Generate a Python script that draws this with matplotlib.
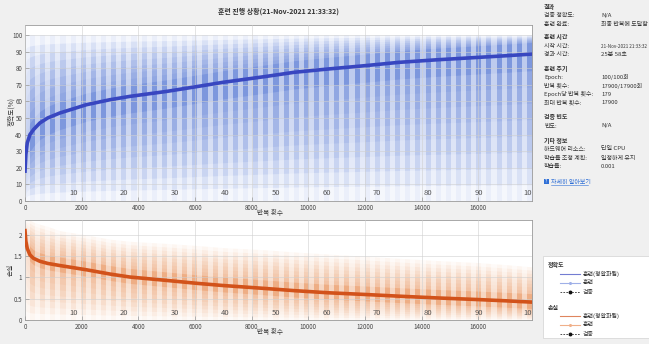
import numpy as np
import matplotlib
matplotlib.use('Agg')
import matplotlib.pyplot as plt
from matplotlib.patches import Rectangle
import matplotlib.transforms as mtransforms

plt.rcParams['font.family'] = ['Noto Sans CJK KR', 'DejaVu Sans']

# ---------------- data ----------------
n_epochs = 100
iters_per_epoch = 179
max_iter = 17900

iters = [0, 30, 80, 175, 300, 525, 800, 1230, 2170, 3000, 3700, 5000, 6100,
         7000, 8500, 9500, 10700, 12000, 13200, 14500, 16000, 17000, 17900]

acc_smooth = [18, 28, 35, 40, 43, 47, 50, 53, 58, 61, 63, 66, 69,
              71.5, 75, 77.5, 79.5, 81.5, 83.5, 85, 86.5, 87.5, 88.5]
acc_dense_hi = [25, 35, 42, 47, 50, 54, 57, 60, 65, 68, 70, 73, 76,
                78.5, 82, 84.5, 86.5, 88.5, 90.5, 92, 93.5, 94.5, 95.5]
acc_dense_lo = [8, 18, 25, 30, 33, 37, 40, 43, 48, 51, 53, 56, 59,
                61.5, 65, 67.5, 69.5, 71.5, 73.5, 75, 76.5, 77.5, 78.5]
acc_raw_hi = [100] * 23
acc_raw_lo = [0] * 23

loss_smooth = [2.1, 1.85, 1.68, 1.53, 1.45, 1.38, 1.33, 1.28, 1.18, 1.08, 1.01, 0.93, 0.86,
               0.81, 0.74, 0.69, 0.64, 0.60, 0.56, 0.52, 0.48, 0.45, 0.42]
loss_dense_hi = [2.3, 2.05, 1.88, 1.73, 1.65, 1.58, 1.53, 1.48, 1.38, 1.28, 1.21, 1.13, 1.06,
                 1.01, 0.94, 0.89, 0.84, 0.80, 0.76, 0.72, 0.68, 0.65, 0.62]
loss_dense_lo = [1.95, 1.7, 1.53, 1.38, 1.3, 1.23, 1.18, 1.13, 1.03, 0.93, 0.86, 0.78, 0.71,
                 0.66, 0.59, 0.54, 0.49, 0.45, 0.41, 0.37, 0.33, 0.30, 0.27]
loss_raw_hi = [2.35, 2.35, 2.35, 2.35, 2.3, 2.25, 2.2, 2.1, 2.0, 1.9, 1.85, 1.8, 1.75,
               1.7, 1.65, 1.6, 1.55, 1.5, 1.45, 1.4, 1.35, 1.3, 1.25]
loss_raw_lo = [0] * 23

x_ticks = [0, 2000, 4000, 6000, 8000, 10000, 12000, 14000, 16000]
acc_ticks = [0, 10, 20, 30, 40, 50, 60, 70, 80, 90, 100]
loss_ticks = [0, 0.5, 1, 1.5, 2]
loss_tick_labels = ['0', '0.5', '1', '1.5', '2']
epoch_labels = [10, 20, 30, 40, 50, 60, 70, 80, 90, 100]

title = '훈련 진행 상황(21-Nov-2021 21:33:32)'

info_rows = [
    ('결과', None, True),
    ('검증 정확도:', 'N/A', False),
    ('훈련 완료:', '최종 반복에 도달함', False),
    ('훈련 시간', None, True),
    ('시작 시간:', '21-Nov-2021 21:33:32', False),
    ('경과 시간:', '25분 58초', False),
    ('훈련 주기', None, True),
    ('Epoch:', '100/100회', False),
    ('반복 횟수:', '17900/17900회', False),
    ('Epoch당 반복 횟수:', '179', False),
    ('최대 반복 횟수:', '17900', False),
    ('검증 빈도', None, True),
    ('빈도:', 'N/A', False),
    ('기타 정보', None, True),
    ('하드웨어 리소스:', '단일 CPU', False),
    ('학습률 조정 계획:', '일정하게 유지', False),
    ('학습률:', '0.001', False),
]
info_y = [7, 15, 24, 37, 46, 55, 68, 77, 86, 94, 103, 117, 126, 140, 149, 158, 167]

# ---------------- figure ----------------
W, H = 649, 344
fig = plt.figure(figsize=(W / 100, H / 100), dpi=100)
fig.patch.set_facecolor('#f0f0f0')

acc_col = '#3846c0'
acc_raw = '#4f73d4'
loss_col = '#d2521a'
loss_raw = '#e8803c'


def style_axes(ax):
    ax.set_facecolor('white')
    for s in ax.spines.values():
        s.set_color('#9a9a9a')
        s.set_linewidth(0.6)
    ax.tick_params(direction='in', length=3, width=0.5, labelsize=4.5,
                   colors='#9a9a9a', labelcolor='#444444', pad=2)
    ax.grid(True, color='#cfcfcf', linewidth=0.4)
    ax.set_axisbelow(False)
    ax.set_xlim(0, max_iter)
    ax.set_xticks(x_ticks)
    ax.set_xticklabels([str(t) for t in x_ticks])


def soft_band(ax, lo_in, hi_in, lo_out, hi_out, color, alpha_in, alpha_step, n=8):
    """Gradient rendering of the raw-data spread: read inner band widening to outer band."""
    lo_in, hi_in = np.asarray(lo_in, float), np.asarray(hi_in, float)
    lo_out, hi_out = np.asarray(lo_out, float), np.asarray(hi_out, float)
    for k in range(n, 0, -1):
        f = k / n
        lo = lo_in + (lo_out - lo_in) * f
        hi = hi_in + (hi_out - hi_in) * f
        ax.fill_between(iters, lo, hi, color=color, alpha=alpha_step, lw=0, zorder=1)
    ax.fill_between(iters, lo_in, hi_in, color=color, alpha=alpha_in, lw=0, zorder=1)


def draw_epochs(ax, yfrac):
    for e in range(0, n_epochs, 2):
        ax.axvspan(e * iters_per_epoch, (e + 1) * iters_per_epoch,
                   color='white', alpha=0.5, lw=0, zorder=2)
    trans = mtransforms.blended_transform_factory(ax.transData, ax.transAxes)
    for e in epoch_labels:
        ax.text((e - 0.5) * iters_per_epoch, yfrac, str(e), transform=trans,
                ha='center', va='bottom', fontsize=5.5, color='#555555',
                clip_on=True, zorder=5)


# accuracy axes
ax1 = fig.add_axes([25 / W, 1 - 201 / H, 507 / W, 176 / H])
style_axes(ax1)
soft_band(ax1, acc_dense_lo, acc_dense_hi, acc_raw_lo, acc_raw_hi, acc_raw, 0.3, 0.11)
draw_epochs(ax1, 0.02)
ax1.plot(iters, acc_smooth, color=acc_col, lw=2.6, zorder=4)
ax1.set_ylim(0, 106)
ax1.set_yticks(acc_ticks)
ax1.set_yticklabels([str(t) for t in acc_ticks])

# loss axes
ax2 = fig.add_axes([25 / W, 1 - 320 / H, 507 / W, 100 / H])
style_axes(ax2)
soft_band(ax2, loss_dense_lo, loss_dense_hi, loss_raw_lo, loss_raw_hi, loss_raw, 0.3, 0.07)
draw_epochs(ax2, 0.03)
ax2.plot(iters, loss_smooth, color=loss_col, lw=2.6, zorder=4)
ax2.set_ylim(0, 2.35)
ax2.set_yticks(loss_ticks)
ax2.set_yticklabels(loss_tick_labels)

# overlay for texts in pixel coordinates
ov = fig.add_axes([0, 0, 1, 1], zorder=10)
ov.set_xlim(0, W)
ov.set_ylim(H, 0)
ov.axis('off')
ov.patch.set_alpha(0)

tc = '#333333'
ov.text(278, 11, title, ha='center', va='center', fontsize=5, color=tc, fontweight='bold')
ov.text(11, 112, '정확도(%)', ha='center', va='center', rotation=90, fontsize=4.8, color=tc)
ov.text(11, 270, '손실', ha='center', va='center', rotation=90, fontsize=4.8, color=tc)
ov.text(270, 213, '반복 횟수', ha='center', va='center', fontsize=4.8, color=tc)
ov.text(270, 332, '반복 횟수', ha='center', va='center', fontsize=4.8, color=tc)

for (lab, val, hdr), y in zip(info_rows, info_y):
    ov.text(544, y, lab, ha='left', va='center', fontsize=4.3, color=tc,
            fontweight='bold' if hdr else 'normal')
    if val is not None:
        fs = 3.3 if len(val) > 12 else 4.3
        ov.text(601, y, val, ha='left', va='center', fontsize=fs, color=tc)

ov.add_patch(Rectangle((543.5, 179), 5, 5, color='#2f6fd6', lw=0))
ov.text(546, 181.5, '?', ha='center', va='center', fontsize=3.5, color='white')
ov.text(551, 182, '자세히 알아보기', ha='left', va='center', fontsize=4.3, color='#2f6fd6')
ov.plot([551, 588], [185, 185], color='#2f6fd6', lw=0.4)

# legend box
ov.add_patch(Rectangle((543, 256), 110, 82, facecolor='white', edgecolor='#d8d8d8', lw=0.6))
leg_groups = [('정확도', 265, acc_col, '#9fb0e8'), ('손실', 307, loss_col, '#f0b08a')]
for name, y0, smooth_c, raw_c in leg_groups:
    ov.text(548, y0, name, ha='left', va='center', fontsize=4.3, color=tc, fontweight='bold')
    ys = [y0 + 9, y0 + 18, y0 + 27]
    ov.plot([560, 580], [ys[0], ys[0]], color=smooth_c, lw=0.8, alpha=0.7)
    ov.plot([560, 580], [ys[1], ys[1]], color=raw_c, lw=0.8)
    ov.plot([570], [ys[1]], marker='o', ms=1.2, color=raw_c)
    ov.plot([560, 580], [ys[2], ys[2]], color='#333333', lw=0.6, ls=(0, (2, 1.5)))
    ov.plot([570], [ys[2]], marker='o', ms=1.8, color='#111111')
    for lab, yy in zip(['훈련(평활화됨)', '훈련', '검증'], ys):
        ov.text(583, yy, lab, ha='left', va='center', fontsize=4.3, color=tc)

fig.savefig('out.png', dpi=100, facecolor=fig.get_facecolor())
